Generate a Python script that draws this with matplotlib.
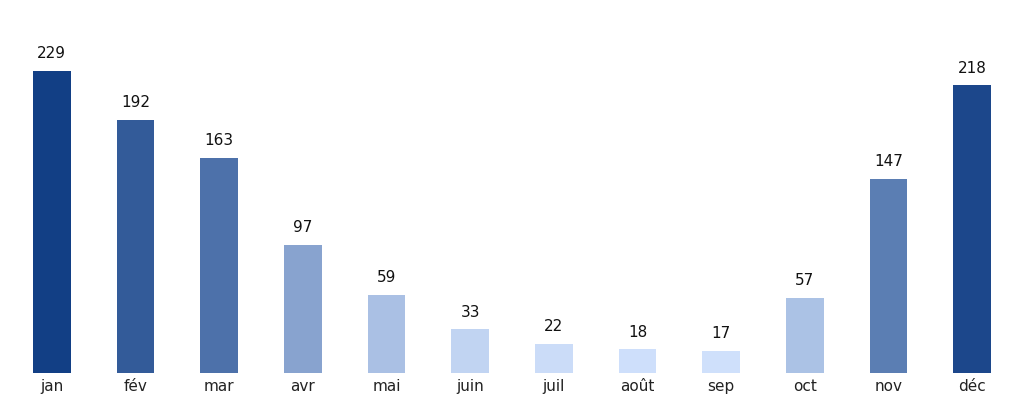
import numpy as np
import matplotlib.pyplot as plt
from matplotlib.colors import LinearSegmentedColormap, Normalize

months = ['jan', 'fév', 'mar', 'avr', 'mai', 'juin', 'juil', 'août', 'sep', 'oct', 'nov', 'déc']
values = [229, 192, 163, 97, 59, 33, 22, 18, 17, 57, 147, 218]

# couleur selon la valeur, du bleu clair au bleu foncé
cmap = LinearSegmentedColormap.from_list('blues', ['#cfe0fb', '#123f85'])
norm = Normalize(min(values), max(values))
colors = [cmap(norm(v)) for v in values]

fig = plt.figure(figsize=(10.24, 4.04), dpi=100)
ax = fig.add_axes([0.0, 0.0767, 1.0, 0.849])

x = np.arange(len(months))
bars = ax.bar(x, values, width=0.45, color=colors)
ax.bar_label(bars, labels=[str(v) for v in values], padding=7, fontsize=11, color='#111111')

ax.set_xlim(-0.62, 11.62)
ax.set_ylim(0, 260)
ax.set_xticks(x, labels=months)
ax.tick_params(axis='x', length=0, pad=4, labelsize=11, labelcolor='#222222')
ax.set_yticks([])
for s in ax.spines.values():
    s.set_visible(False)

fig.savefig('out.png', dpi=100)
